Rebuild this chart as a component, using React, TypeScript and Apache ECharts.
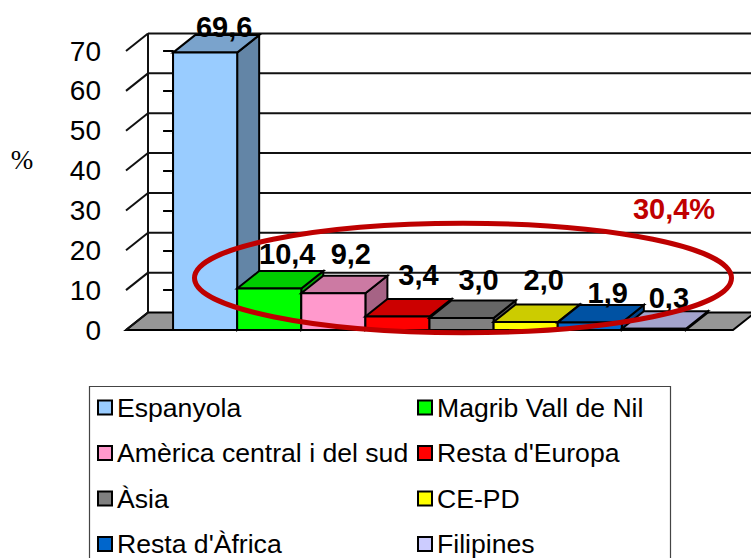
import React, { useEffect, useRef } from "react";
import * as echarts from "echarts";

const categories = ["Espanyola", "Magrib Vall de Nil", "Amèrica central i del sud", "Resta d'Europa", "Àsia", "CE-PD", "Resta d'Àfrica", "Filipines"];
const values = [69.6, 10.4, 9.2, 3.4, 3.0, 2.0, 1.9, 0.3];
const colors = ["#99CCFF", "#00FF00", "#FF99CC", "#FF0000", "#808080", "#FFFF00", "#0066CC", "#CCCCFF"];
const yTicks = [0, 10, 20, 30, 40, 50, 60, 70];
const ellipseLabel = "30,4%";
const yUnit = "%";

// layout of the pseudo-3D box and hand-placed labels (as in the source chart)
const DX = 22;
const DY = -17.5;
const X_MIN = -0.734;
const X_MAX = 8.734;
const labelNudge: [number, number][] = [[19, -26], [18, -35], [17.5, -39], [21, -41], [17, -38], [18, -42], [18, -29], [15, -31]];
const SANS = "'Liberation Sans', Arial, sans-serif";

function shade(hex: string, f: number) {
  const n = parseInt(hex.slice(1), 16);
  const c = [(n >> 16) & 255, (n >> 8) & 255, n & 255].map((v) => Math.round(v * f));
  return `rgb(${c[0]},${c[1]},${c[2]})`;
}

export default function App() {
  const ref = useRef<HTMLDivElement>(null);
  useEffect(() => {
    const chart = echarts.init(ref.current!, undefined, { renderer: "svg" });
    const edge = { stroke: "#000", lineWidth: 2, lineJoin: "miter" };
    const wallLine = { stroke: "#111", lineWidth: 2 };

    const barSeries = categories.map((name, idx) => ({
      type: "custom",
      name,
      z: 4,
      itemStyle: { color: colors[idx] },
      encode: { x: 0, y: 1 },
      data: [[idx, values[idx]]],
      renderItem: (_p: any, api: any) => {
        const i = api.value(0);
        const [x0, y0] = api.coord([i, 0]);
        const [x1, y1] = api.coord([i + 1, api.value(1)]);
        const c = colors[idx];
        return {
          type: "group",
          children: [
            { type: "polygon", shape: { points: [[x1, y1], [x1 + DX, y1 + DY], [x1 + DX, y0 + DY], [x1, y0]] }, style: { fill: shade(c, 0.65), ...edge } },
            { type: "polygon", shape: { points: [[x0, y1], [x0 + DX, y1 + DY], [x1 + DX, y1 + DY], [x1, y1]] }, style: { fill: shade(c, 0.8), ...edge } },
            { type: "rect", shape: { x: x0, y: y1, width: x1 - x0, height: y0 - y1 }, style: { fill: c, ...edge } },
          ],
        };
      },
    }));

    const option: any = {
      animation: false,
      backgroundColor: "#fff",
      grid: { left: 126, top: 51, right: 18, bottom: 228 },
      xAxis: { type: "value", min: X_MIN, max: X_MAX, show: false },
      yAxis: {
        type: "value",
        min: 0,
        max: 70,
        interval: 10,
        splitLine: { show: false },
        axisLine: { show: true, lineStyle: { color: "#000", width: 2 } },
        axisTick: { show: true, length: 10, lineStyle: { color: "#000", width: 2 } },
        axisLabel: { fontSize: 28, color: "#000", fontFamily: SANS, margin: 25 },
      },
      legend: [
        { data: categories.filter((_, i) => i % 2 === 0), left: 97, top: 394 },
        { data: categories.filter((_, i) => i % 2 === 1), left: 417, top: 394 },
      ].map((l) => ({
        ...l,
        orient: "vertical",
        height: 400,
        icon: "rect",
        itemWidth: 14,
        itemHeight: 14,
        itemGap: 18.5,
        selectedMode: false,
        padding: 0,
        itemStyle: { borderColor: "#000", borderWidth: 2 },
        textStyle: { fontSize: 26.6, lineHeight: 26.5, color: "#000", fontFamily: SANS, padding: [0, 0, 0, 0] },
      })),
      series: [
        {
          type: "custom",
          z: 1,
          encode: { x: 0, y: 1 },
          data: [[X_MIN, 0]],
          renderItem: (_p: any, api: any) => {
            const [xl, yb] = api.coord([X_MIN, 0]);
            const [xr] = api.coord([X_MAX, 0]);
            const [, yt] = api.coord([X_MIN, 70]);
            return {
              type: "group",
              children: [
                { type: "polygon", shape: { points: [[xl, yb], [xl + DX, yb + DY], [xr + DX, yb + DY], [xr, yb]] }, style: { fill: "#969696", ...edge } },
                { type: "line", shape: { x1: xl + DX, y1: yt + DY, x2: xl + DX, y2: yb + DY }, style: wallLine },
              ],
            };
          },
        },
        {
          type: "custom",
          z: 2,
          encode: { x: 0, y: 1 },
          data: yTicks.map((t) => [X_MIN, t]),
          renderItem: (_p: any, api: any) => {
            const [xl, y] = api.coord([X_MIN, api.value(1)]);
            const [xr] = api.coord([X_MAX, 0]);
            return {
              type: "group",
              children: [
                { type: "line", shape: { x1: xl, y1: y, x2: xl + DX, y2: y + DY }, style: wallLine },
                ...(api.value(1) > 0 ? [{ type: "line", shape: { x1: xl + DX, y1: y + DY, x2: xr + DX, y2: y + DY }, style: wallLine }] : []),
              ],
            };
          },
        },
        ...barSeries,
        {
          type: "custom",
          z: 6,
          encode: { x: 0, y: 1 },
          data: values.map((v, i) => [i, v]),
          renderItem: (_p: any, api: any) => {
            const i = api.value(0);
            const v = api.value(1);
            const [x, y] = api.coord([i + 0.5, v]);
            const [nx, ny] = labelNudge[i];
            return {
              type: "text",
              x: x + nx,
              y: y + ny,
              style: { text: v.toFixed(1).replace(".", ","), fontSize: 29, fontWeight: "bold", fontFamily: SANS, fill: "#000", align: "center", verticalAlign: "middle" },
            };
          },
        },
      ],
      graphic: [
        { type: "rect", z: 0, silent: true, shape: { x: 89.5, y: 386.5, width: 581, height: 200 }, style: { fill: "#fff", stroke: "#444", lineWidth: 1.2 } },
        { type: "ellipse", z: 50, silent: true, shape: { cx: 463, cy: 278, rx: 268.5, ry: 54.8 }, style: { fill: "none", stroke: "#BE0000", lineWidth: 5 } },
        { type: "text", z: 50, silent: true, x: 674, y: 209, style: { text: ellipseLabel, fontSize: 29, fontWeight: "bold", fontFamily: SANS, fill: "#C00000", align: "center", verticalAlign: "middle" } },
        { type: "text", z: 50, silent: true, x: 22, y: 160, style: { text: yUnit, fontSize: 27, fontFamily: "'Liberation Serif', serif", fill: "#000", align: "center", verticalAlign: "middle" } },
      ],
    };
    chart.setOption(option);
    return () => chart.dispose();
  }, []);
  return <div ref={ref} style={{ position: "absolute", left: 0, top: 0, width: 751, height: 558 }} />;
}
